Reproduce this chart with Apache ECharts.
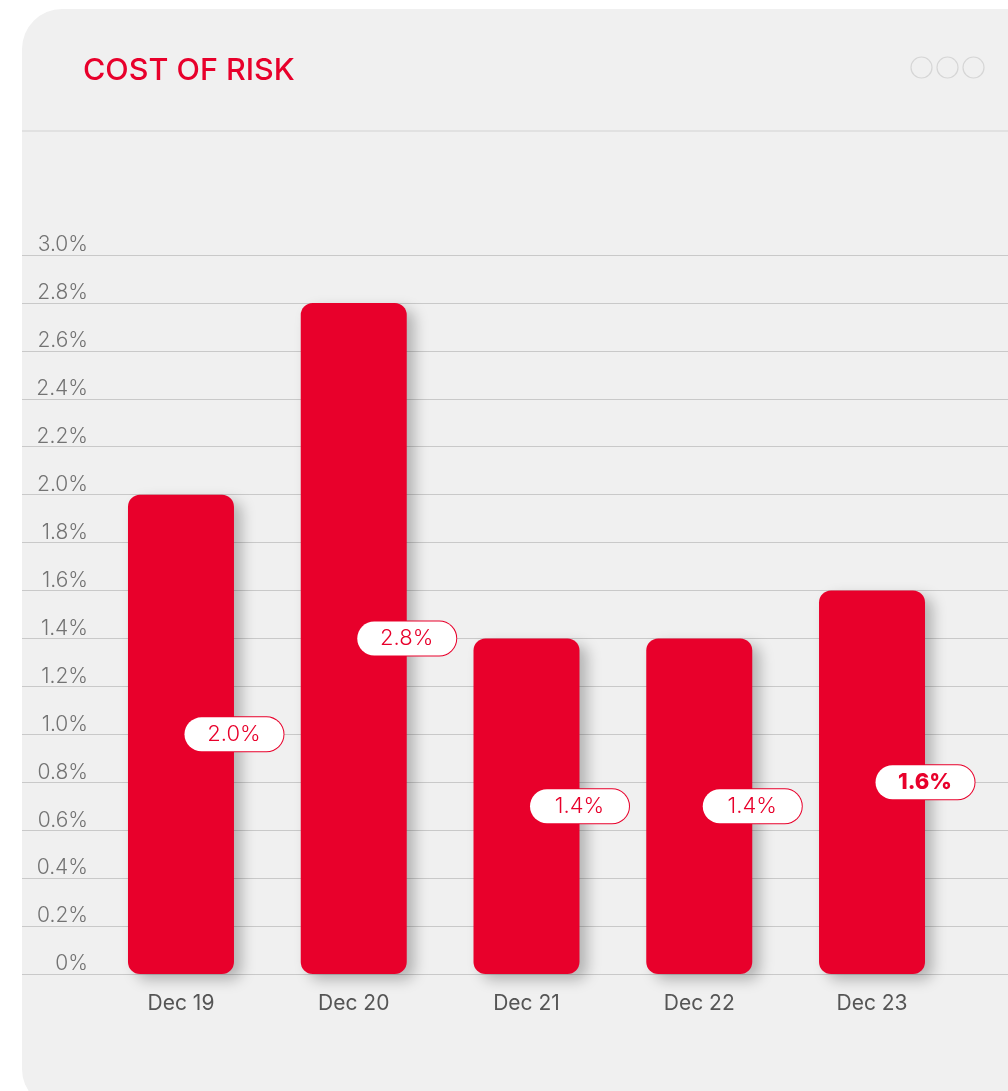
<!DOCTYPE html>
<html>
<head>
<meta charset="utf-8">
<title>Cost of Risk</title>
<script src="https://cdn.jsdelivr.net/npm/echarts@6/dist/echarts.min.js"></script>
<style>
  html, body { margin: 0; padding: 0; background: #ffffff; overflow: hidden; }
  #card {
    position: absolute; left: 22px; top: 9px; width: 1030px; height: 1100px;
    background: #f0f0f0; border-radius: 40px;
  }
  #chart { position: absolute; left: 0; top: 0; width: 1008px; height: 1091px; }
</style>
</head>
<body>
<div id="card"></div>
<div id="chart"></div>
<script>
// Cost of risk by year-end
const categories = ['Dec 19', 'Dec 20', 'Dec 21', 'Dec 22', 'Dec 23'];
const costOfRisk = [2.0, 2.8, 1.4, 1.4, 1.6];
const yTickLabels = ['0%', '0.2%', '0.4%', '0.6%', '0.8%', '1.0%', '1.2%', '1.4%',
  '1.6%', '1.8%', '2.0%', '2.2%', '2.4%', '2.6%', '2.8%', '3.0%'];

const RED = '#e8002b';
const FONT = 'Inter, "Noto Sans", sans-serif';

const chart = echarts.init(document.getElementById('chart'), null, { renderer: 'canvas' });

const barData = costOfRisk.map((v, i) => {
  const item = { value: v };
  if (i === costOfRisk.length - 1) {
    item.label = { fontWeight: 800 };
  }
  return item;
});

chart.setOption({
  animation: false,
  title: {
    text: 'COST OF RISK',
    left: 83, top: 55, padding: 0,
    textStyle: { color: RED, fontFamily: FONT, fontSize: 30.5, fontWeight: 500 }
  },
  graphic: [
    { type: 'line', shape: { x1: 22, y1: 131, x2: 1008, y2: 131 },
      style: { stroke: '#dcdcdc', lineWidth: 1.5 }, silent: true },
    { type: 'circle', shape: { cx: 921.5, cy: 67.5, r: 10.5 },
      style: { fill: 'none', stroke: '#d6d6d6', lineWidth: 1.2 } },
    { type: 'circle', shape: { cx: 947.5, cy: 67.5, r: 10.5 },
      style: { fill: 'none', stroke: '#d6d6d6', lineWidth: 1.2 } },
    { type: 'circle', shape: { cx: 973.5, cy: 67.5, r: 10.5 },
      style: { fill: 'none', stroke: '#d6d6d6', lineWidth: 1.2 } }
  ],
  grid: [
    { left: 22, right: 0, top: 255, bottom: 117 },
    { left: 94.6, right: 49.6, top: 255, bottom: 117 }
  ],
  xAxis: [
    { gridIndex: 0, type: 'value', show: false, min: 0, max: 1 },
    {
      gridIndex: 1, type: 'category', data: categories,
      axisLine: { show: false }, axisTick: { show: false },
      axisLabel: { color: '#555555', fontFamily: FONT, fontSize: 21, fontWeight: 400, margin: 19 }
    }
  ],
  yAxis: [
    {
      gridIndex: 0, type: 'value', min: 0, max: 3, interval: 0.2,
      axisLine: { show: false }, axisTick: { show: false },
      splitLine: { lineStyle: { color: '#c9c9c9', width: 1 } },
      axisLabel: {
        margin: -66, color: '#737373', fontFamily: FONT, fontSize: 21, fontWeight: 300,
        verticalAlign: 'bottom', lineHeight: 20,
        formatter: v => yTickLabels[Math.round(v / 0.2)]
      }
    },
    { gridIndex: 1, type: 'value', min: 0, max: 3, show: false }
  ],
  series: [{
    type: 'bar',
    xAxisIndex: 1, yAxisIndex: 1,
    data: barData,
    barWidth: 106,
    itemStyle: {
      color: RED,
      borderRadius: 12,
      shadowBlur: 14,
      shadowColor: 'rgba(0,0,0,0.25)',
      shadowOffsetX: 8,
      shadowOffsetY: 6
    },
    label: {
      show: true,
      position: 'inside',
      offset: [53, 0],
      formatter: p => p.value.toFixed(1) + '%',
      color: RED, fontFamily: FONT, fontSize: 22, fontWeight: 300,
      backgroundColor: '#ffffff', borderColor: RED, borderWidth: 1,
      borderRadius: 18, width: 99, height: 34, lineHeight: 34, align: 'center'
    }
  }]
});
</script>
</body>
</html>
